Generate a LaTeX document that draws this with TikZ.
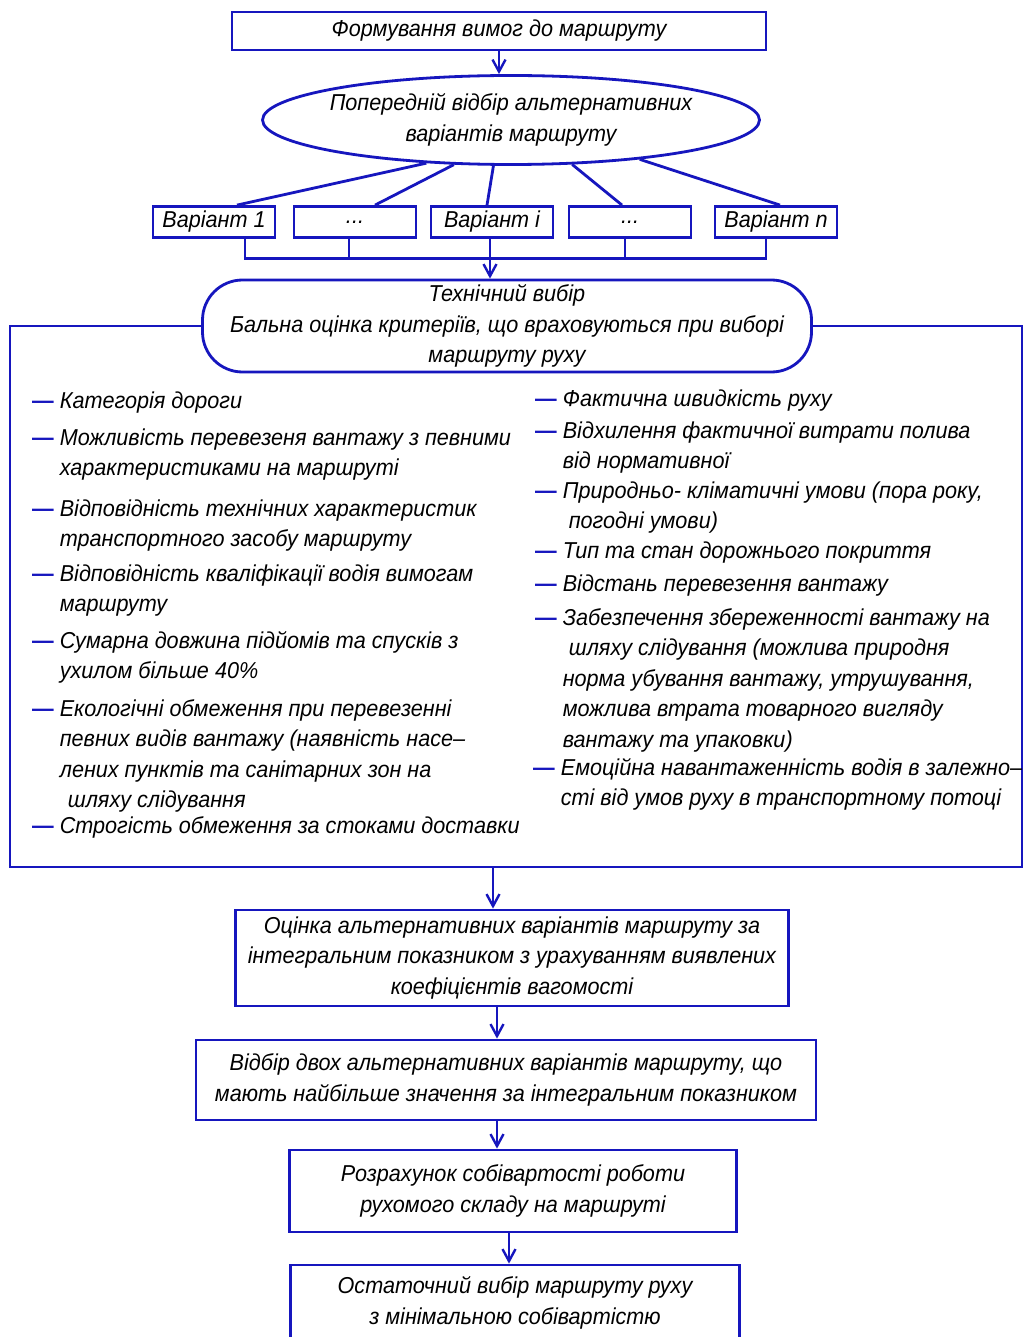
\documentclass[tikz,border=0pt]{standalone}
\usepackage{fontspec}
\setmainfont{Liberation Sans}[FakeStretch=0.94]
\usepackage{xcolor}
\usepackage{tikz}
\usetikzlibrary{arrows.meta,positioning,calc,shapes.geometric}
\definecolor{lineblue}{RGB}{22,22,190}
\newcommand{\critem}[1]{\begin{tabular}[t]{@{}l@{\hspace{6pt}}l@{}}{\color{lineblue}\upshape\bfseries —}&#1\end{tabular}}

\begin{document}
\begin{tikzpicture}[
    x=1pt, y=-1pt,
    every node/.style={font=\fontsize{23}{30.5}\selectfont\itshape},
    box/.style={draw=lineblue, line width=2.8pt, fill=white, align=center, inner sep=2pt},
    varbox/.style={box, minimum width=122pt, minimum height=31pt},
    conn/.style={draw=lineblue, line width=2.8pt},
    arr/.style={conn, -{Straight Barb[length=12pt,width=13pt,line width=2.4pt]}},
    crit/.style={anchor=base west, inner sep=0pt}
]
\fill[white] (0,0) rectangle (1025,1337);
\useasboundingbox (0,0) rectangle (1025,1337);

% requirements and preselection
\node[box, minimum width=534pt, minimum height=38pt] (req) at (499,31) {Формування вимог до маршруту};
\node[box, ellipse, inner xsep=-12pt, inner ysep=2pt, minimum width=497pt, minimum height=89pt] (presel) at (511,120) {Попередній відбір альтернативних\\варіантів маршруту};
\draw[arr] (req.south) -- (req.south |- presel.north);

% variants
\node[varbox] (v1) at (214,222) {Варіант 1};
\node[varbox] (v2) at (355,222) {...};
\node[varbox] (v3) at (492,222) {Варіант і};
\node[varbox] (v4) at (630,222) {...};
\node[varbox] (v5) at (776,222) {Варіант n};
\draw[conn] (presel.207) -- ([xshift=23pt]v1.north);
\draw[conn] (presel.218) -- ([xshift=20pt]v2.north);
\draw[conn] (presel.249) -- ([xshift=-5pt]v3.north);
\draw[conn] (presel.324) -- ([xshift=-8pt]v4.north);
\draw[conn] (presel.343) -- ([xshift=4pt]v5.north);
\draw[conn] ([xshift=31pt]v1.south) -- ++(0,20) -| ([xshift=-10pt]v5.south);
\draw[conn] ([xshift=-6pt]v2.south) -- ++(0,20);
\draw[conn] ([xshift=-5pt]v4.south) -- ++(0,20);

% technical choice and criteria frame
\node[box, rounded corners=40pt, minimum width=609pt, minimum height=92pt] (tech) at (507,326) {Технічний вибір\\Бальна оцінка критеріїв, що враховуються при виборі\\маршруту руху};
\draw[arr] ([xshift=-2pt]v3.south) -- ([xshift=-2pt]v3.south |- tech.north);
\coordinate (fsw) at (10,867);
\coordinate (fse) at (1022,867);
\draw[conn] (tech.west) -| (fsw) -- (fse) |- (tech.east);

\node[crit] (l1) at (32,408) {\critem{Категорія дороги}};
\node[crit] (l2) at (32,445) {\critem{Можливість перевезеня вантажу з певними\\ & характеристиками на маршруті}};
\node[crit] (l3) at (32,516) {\critem{Відповідність технічних характеристик\\ & транспортного засобу маршруту}};
\node[crit] (l4) at (32,581) {\critem{Відповідність кваліфікації водія вимогам\\ & маршруту}};
\node[crit] (l5) at (32,648) {\critem{Сумарна довжина підйомів та спусків з\\ & ухилом більше 40\%}};
\node[crit] (l6) at (32,716) {\critem{Екологічні обмеження при перевезенні\\ & певних видів вантажу (наявність насе–\\ & лених пунктів та санітарних зон на\\ & \hspace*{8pt}шляху слідування}};
\node[crit] (l7) at (32,833) {\critem{Строгість обмеження за стоками доставки}};

\node[crit] (r1) at (535,406) {\critem{Фактична швидкість руху}};
\node[crit] (r2) at (535,438) {\critem{Відхилення фактичної витрати полива\\ & від нормативної}};
\node[crit] (r3) at (535,498) {\critem{Природньо- кліматичні умови (пора року,\\ & \hspace*{6pt}погодні умови)}};
\node[crit] (r4) at (535,558) {\critem{Тип та стан дорожнього покриття}};
\node[crit] (r5) at (535,591) {\critem{Відстань перевезення вантажу}};
\node[crit] (r6) at (535,625) {\critem{Забезпечення збереженності вантажу на\\ & \hspace*{6pt}шляху слідування (можлива природня\\ & норма убування вантажу, утрушування,\\ & можлива втрата товарного вигляду\\ & вантажу та упаковки)}};
\node[crit] (r7) at (533,775) {\critem{Емоційна навантаженність водія в залежно–\\ & сті від умов руху в транспортному потоці}};

% evaluation chain
\node[box, minimum width=553pt, minimum height=96pt] (eval) at (512,958) {Оцінка альтернативних варіантів маршруту за\\інтегральним показником з урахуванням виявлених\\коефіцієнтів вагомості};
\coordinate (fout) at (493,867);
\draw[arr] (fout) -- (fout |- eval.north);
\node[box, minimum width=620pt, minimum height=80pt] (pick) at (506,1080) {Відбір двох альтернативних варіантів маршруту, що\\мають найбільше значення за інтегральним показником};
\draw[arr] ([xshift=-15pt]eval.south) -- ([xshift=-15pt]eval.south |- pick.north);
\node[box, minimum width=447pt, minimum height=82pt] (cost) at (513,1191) {Розрахунок собівартості роботи\\рухомого складу на маршруті};
\draw[arr] ([xshift=-9pt]pick.south) -- ([xshift=-9pt]pick.south |- cost.north);
\node[box, minimum width=449pt, minimum height=76pt] (final) at (515,1303) {Остаточний вибір маршруту руху\\з мінімальною собівартістю};
\draw[arr] ([xshift=-4pt]cost.south) -- ([xshift=-4pt]cost.south |- final.north);
\end{tikzpicture}
\end{document}
